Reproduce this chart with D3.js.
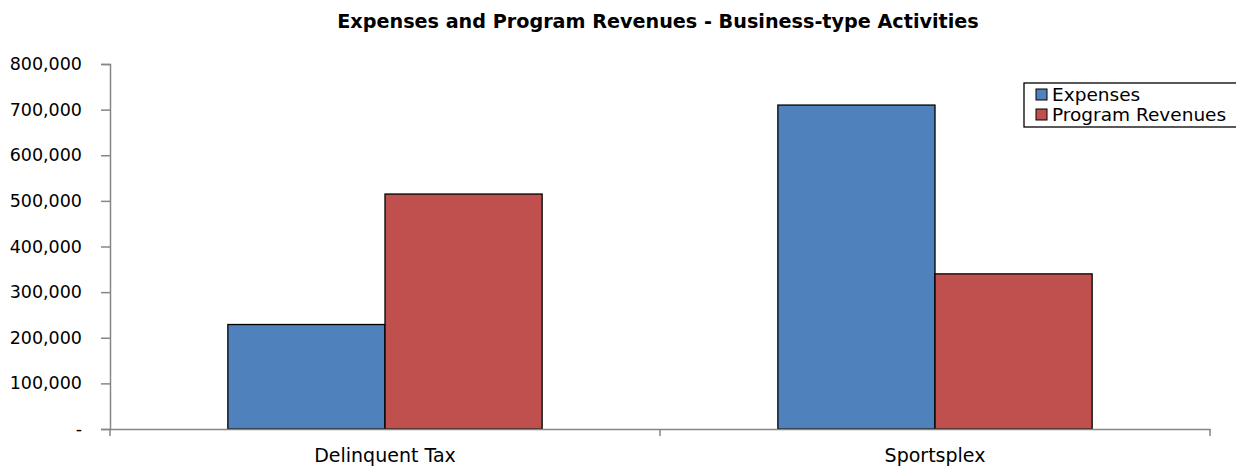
<!DOCTYPE html>
<html>
<head>
<meta charset="utf-8">
<script src="https://cdn.jsdelivr.net/npm/d3@7"></script>
<style>
  body { margin: 0; background: #fff; }
  text { font-family: "DejaVu Sans", sans-serif; fill: #000; }
</style>
</head>
<body>
<div id="chart"></div>
<script>
var categories = ["Delinquent Tax", "Sportsplex"];
var seriesNames = ["Expenses", "Program Revenues"];
var expenses = [229000, 710000];
var programRevenues = [515000, 340000];
var yTicks = [0, 100000, 200000, 300000, 400000, 500000, 600000, 700000, 800000];
var colors = ["#4F81BD", "#C0504D"];

var width = 1236, height = 471,
    plotLeft = 110, plotRight = 1210, plotTop = 64, plotBottom = 429;

var svg = d3.select("#chart").append("svg")
    .attr("width", width).attr("height", height);

var x = d3.scaleBand().domain(categories).range([plotLeft, plotRight]);
var y = d3.scaleLinear().domain([0, 800000]).range([plotBottom, plotTop]);
var barW = x.bandwidth() / 3.5;
var inner = d3.scaleBand().domain(seriesNames).range([0, barW * 2]);

// title
svg.append("text")
    .attr("x", 658).attr("y", 28)
    .attr("text-anchor", "middle")
    .style("font-size", "19.2px").style("font-weight", "bold")
    .text("Expenses and Program Revenues - Business-type Activities");

// y axis
var yAxis = d3.axisLeft(y).tickValues(yTicks).tickSize(9).tickPadding(19)
    .tickFormat(function (d) { return d === 0 ? "-" : d3.format(",")(d); });
var gy = svg.append("g").attr("transform", "translate(" + plotLeft + ",0)").call(yAxis);
gy.select(".domain").attr("stroke", "#868686").attr("stroke-width", 1.5);
gy.selectAll(".tick line").attr("stroke", "#868686").attr("stroke-width", 1.5);
gy.selectAll(".tick text").style("font-size", "17.5px").attr("font-family", null);

// bars
var rows = categories.map(function (c, i) {
    return { cat: c, vals: [expenses[i], programRevenues[i]] };
});
var groups = svg.selectAll("g.cat").data(rows).enter().append("g")
    .attr("class", "cat")
    .attr("transform", function (d) { return "translate(" + (x(d.cat) + (x.bandwidth() - barW * 2) / 2) + ",0)"; });
groups.selectAll("rect").data(function (d) { return d.vals; }).enter().append("rect")
    .attr("x", function (d, i) { return inner(seriesNames[i]); })
    .attr("y", function (d) { return y(d); })
    .attr("width", barW)
    .attr("height", function (d) { return plotBottom - y(d); })
    .attr("fill", function (d, i) { return colors[i]; })
    .attr("stroke", "#000").attr("stroke-width", 1.3);

// x axis
var xAxis = d3.axisBottom(x).tickSize(0).tickPadding(20);
var gx = svg.append("g").attr("transform", "translate(0," + plotBottom + ")").call(xAxis);
gx.select(".domain").attr("stroke", "#868686").attr("stroke-width", 1.5);
gx.selectAll(".tick text").style("font-size", "19px").attr("font-family", null);
var bounds = [plotLeft].concat(categories.map(function (c) { return x(c) + x.bandwidth(); }));
gx.selectAll("line.sep").data(bounds).enter().append("line")
    .attr("class", "sep")
    .attr("x1", function (d) { return d; }).attr("x2", function (d) { return d; })
    .attr("y1", 0).attr("y2", 7)
    .attr("stroke", "#868686").attr("stroke-width", 1.5);

// legend
var lg = svg.append("g").attr("transform", "translate(1024,83)");
lg.append("rect").attr("width", 230).attr("height", 44)
    .attr("fill", "#fff").attr("stroke", "#000").attr("stroke-width", 1.3);
seriesNames.forEach(function (s, i) {
    lg.append("rect").attr("x", 12).attr("y", 6 + i * 20).attr("width", 11).attr("height", 11)
        .attr("fill", colors[i]).attr("stroke", "#000").attr("stroke-width", 1);
    lg.append("text").attr("x", 28).attr("y", 18 + i * 20)
        .style("font-size", "18.5px").text(s);
});
</script>
</body>
</html>
